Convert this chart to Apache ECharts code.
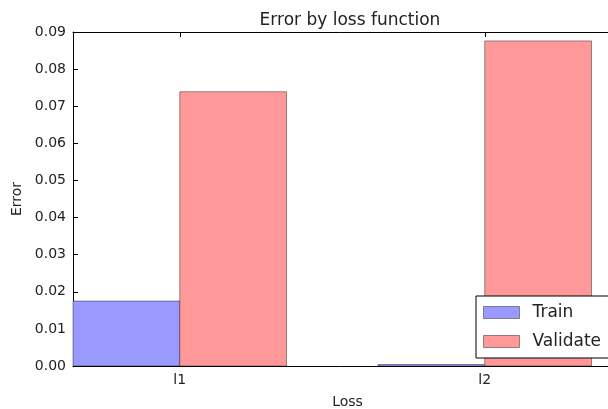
<!DOCTYPE html>
<html>
<head>
<meta charset="utf-8">
<script src="https://cdn.jsdelivr.net/npm/echarts@6/dist/echarts.min.js"></script>
<style>html,body{margin:0;padding:0;background:#fff}#c{width:608px;height:409px}</style>
</head>
<body>
<div id="c"></div>
<script>
const categories = ['l1', 'l2'];
const trainValues = [0.0175, 0.0004];
const validateValues = [0.0739, 0.0876];
const yTicks = [0, 0.01, 0.02, 0.03, 0.04, 0.05, 0.06, 0.07, 0.08, 0.09];
const seriesNames = ['Train', 'Validate'];

const BAR_W = 0.35;
const FONT = 'DejaVu Sans';
const TXT = '#222';
const trainColor = '#9999ff';
const valColor = '#ff9999';
const edge = 'rgba(0,0,0,0.4)';

function makeRender(values, offset) {
  return function (params, api) {
    const i = api.value(0);
    const v = api.value(1);
    const p0 = api.coord([i + offset, v]);
    const p1 = api.coord([i + offset + BAR_W, 0]);
    return {
      type: 'rect',
      shape: { x: p0[0], y: p0[1], width: p1[0] - p0[0], height: p1[1] - p0[1] },
      style: { fill: api.visual('color'), stroke: edge, lineWidth: 1 }
    };
  };
}

const chart = echarts.init(document.getElementById('c'), null, { renderer: 'canvas' });
const xCommon = {
  type: 'value', min: -BAR_W, max: 1.45,
  splitLine: { show: false },
  axisLine: { show: true, onZero: false, lineStyle: { color: '#000', width: 1 } }
};
chart.setOption({
  animation: false,
  backgroundColor: '#fff',
  title: {
    text: 'Error by loss function', left: 345, top: 7, textAlign: 'center',
    textStyle: { fontFamily: FONT, fontSize: 17, fontWeight: 'normal', color: TXT }
  },
  grid: { left: 73, top: 32, width: 549, height: 334, containLabel: false, outerBoundsMode: 'none' },
  legend: {
    orient: 'vertical', left: 476, top: 296,
    padding: [8, 14, 8, 7], itemGap: 12, itemWidth: 36, itemHeight: 12,
    backgroundColor: '#fff', borderColor: '#000', borderWidth: 1, borderRadius: 0,
    textStyle: { fontFamily: FONT, fontSize: 17, color: TXT, padding: [0, 0, 0, 8] },
    data: [
      { name: seriesNames[0], icon: 'rect', itemStyle: { color: trainColor, borderColor: edge, borderWidth: 1 } },
      { name: seriesNames[1], icon: 'rect', itemStyle: { color: valColor, borderColor: edge, borderWidth: 1 } }
    ]
  },
  xAxis: [
    Object.assign({}, xCommon, {
      position: 'bottom',
      name: 'Loss', nameLocation: 'middle', nameGap: 29,
      nameTextStyle: { fontFamily: FONT, fontSize: 14, color: TXT },
      axisTick: { show: true, inside: true, length: 5, lineStyle: { color: '#000' }, customValues: [0, 1] },
      axisLabel: {
        show: true, margin: 7, fontFamily: FONT, fontSize: 14, color: TXT,
        customValues: [0, 1],
        formatter: function (v) { return categories[Math.round(v)] || ''; }
      }
    }),
    Object.assign({}, xCommon, {
      position: 'top',
      axisTick: { show: true, inside: true, length: 5, lineStyle: { color: '#000' }, customValues: [0, 1] },
      axisLabel: { show: false }
    })
  ],
  yAxis: [{
    type: 'value', min: yTicks[0], max: yTicks[yTicks.length - 1], interval: 0.01,
    position: 'left',
    name: 'Error', nameLocation: 'middle', nameGap: 48,
    nameTextStyle: { fontFamily: FONT, fontSize: 14, color: TXT },
    splitLine: { show: false },
    axisLine: { show: true, onZero: false, lineStyle: { color: '#000', width: 1 } },
    axisTick: { show: true, inside: true, length: 5, lineStyle: { color: '#000' } },
    axisLabel: {
      margin: 7, fontFamily: FONT, fontSize: 14, color: TXT,
      formatter: function (v) { return v.toFixed(2); }
    }
  }],
  series: [
    {
      name: seriesNames[0], type: 'custom', xAxisIndex: 0, yAxisIndex: 0,
      itemStyle: { color: trainColor },
      renderItem: makeRender(trainValues, -BAR_W),
      encode: { x: 0, y: 1 },
      data: trainValues.map(function (v, i) { return [i, v]; })
    },
    {
      name: seriesNames[1], type: 'custom', xAxisIndex: 0, yAxisIndex: 0,
      itemStyle: { color: valColor },
      renderItem: makeRender(validateValues, 0),
      encode: { x: 0, y: 1 },
      data: validateValues.map(function (v, i) { return [i, v]; })
    }
  ]
});
</script>
</body>
</html>
